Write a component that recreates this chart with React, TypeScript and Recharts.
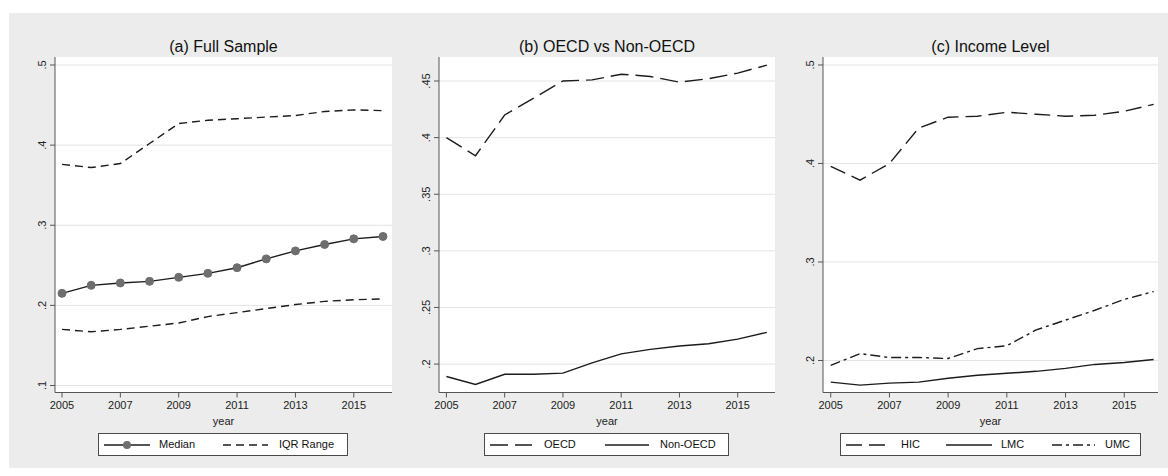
import React from 'react';
import { LineChart, Line, XAxis, YAxis, CartesianGrid } from 'recharts';

// ---- data -------------------------------------------------------------
const years = [2005, 2006, 2007, 2008, 2009, 2010, 2011, 2012, 2013, 2014, 2015, 2016];

// (a) Full sample
const medianShare = [0.215, 0.225, 0.228, 0.23, 0.235, 0.24, 0.247, 0.258, 0.268, 0.276, 0.283, 0.286];
const iqrUpper = [0.376, 0.372, 0.377, 0.402, 0.427, 0.431, 0.433, 0.435, 0.437, 0.442, 0.444, 0.443];
const iqrLower = [0.17, 0.167, 0.17, 0.174, 0.178, 0.186, 0.191, 0.196, 0.201, 0.205, 0.207, 0.208];

// (b) OECD vs Non-OECD
const oecd = [0.4, 0.384, 0.42, 0.435, 0.45, 0.451, 0.456, 0.454, 0.449, 0.452, 0.457, 0.464];
const nonOecd = [0.189, 0.182, 0.191, 0.191, 0.192, 0.201, 0.209, 0.213, 0.216, 0.218, 0.222, 0.228];

// (c) Income level
const hic = [0.397, 0.383, 0.4, 0.436, 0.447, 0.448, 0.452, 0.45, 0.448, 0.449, 0.453, 0.46];
const lmc = [0.178, 0.175, 0.177, 0.178, 0.182, 0.185, 0.187, 0.189, 0.192, 0.196, 0.198, 0.201];
const umc = [0.195, 0.207, 0.203, 0.203, 0.202, 0.212, 0.215, 0.231, 0.241, 0.251, 0.262, 0.27];

const yearTicks = [2005, 2007, 2009, 2011, 2013, 2015];
const ticksA = [0.1, 0.2, 0.3, 0.4, 0.5];
const ticksB = [0.2, 0.25, 0.3, 0.35, 0.4, 0.45];
const ticksC = [0.2, 0.3, 0.4, 0.5];

const dataA = years.map((year, i) => ({ year, median: medianShare[i], p75: iqrUpper[i], p25: iqrLower[i] }));
const dataB = years.map((year, i) => ({ year, oecd: oecd[i], nonOecd: nonOecd[i] }));
const dataC = years.map((year, i) => ({ year, hic: hic[i], lmc: lmc[i], umc: umc[i] }));

// ---- styling ----------------------------------------------------------
const FONT = '"Liberation Sans", Arial, Helvetica, sans-serif';
const INK = '#1c1c1c';
const AXIS = '#555555';
const PLOT_TOP = 57;
const PLOT_BOTTOM = 392.5;
const CHART_H = 476;
const X_AXIS_H = 30;

const DASH_IQR = '8 5';
const DASH_LONG = '18 7';
const DASH_HIC = '16 7';
const DASH_DOT = '10 4 3 4';

const fmtShare = (v: number) => String(Number(v.toFixed(3))).replace(/^0/, '');

const VerticalTick = (props: any) => {
  const { x, y, payload } = props;
  return (
    <text
      x={x}
      y={y}
      transform={`rotate(-90 ${x} ${y})`}
      textAnchor="middle"
      fontSize={11}
      fontFamily={FONT}
      fill="#222"
    >
      {fmtShare(payload.value)}
    </text>
  );
};

type SeriesDef = {
  key: string;
  dash?: string;
  marker?: boolean;
};

type LegendItem = {
  label: string;
  dash?: string;
  marker?: boolean;
  sampleX: number;
  sampleW: number;
  textX: number;
};

type PanelProps = {
  title: string;
  left: number;
  width: number;
  yAxisWidth: number;
  marginRight: number;
  xDomain: [number, number];
  yDomain: [number, number];
  yTicks: number[];
  data: any[];
  series: SeriesDef[];
  legendLeft: number;
  legendWidth: number;
  legend: LegendItem[];
};

function Panel(p: PanelProps) {
  const plotLeft = p.left + p.yAxisWidth;
  const plotRight = p.left + p.width - p.marginRight;
  const center = (plotLeft + plotRight) / 2;
  return (
    <>
      <div
        style={{
          position: 'absolute',
          left: center - 150,
          width: 300,
          top: 38,
          lineHeight: '18px',
          textAlign: 'center',
          fontFamily: FONT,
          fontSize: 16,
          color: '#111',
        }}
      >
        {p.title}
      </div>
      <div style={{ position: 'absolute', left: p.left, top: 0 }}>
        <LineChart
          width={p.width}
          height={CHART_H}
          data={p.data}
          margin={{
            top: PLOT_TOP,
            right: p.marginRight,
            bottom: CHART_H - PLOT_BOTTOM - X_AXIS_H,
            left: 0,
          }}
        >
          <CartesianGrid fill="#ffffff" stroke="#e4e4e4" vertical={false} horizontalValues={p.yTicks} />
          <XAxis
            dataKey="year"
            type="number"
            domain={p.xDomain}
            ticks={yearTicks}
            allowDataOverflow
            height={X_AXIS_H}
            tickSize={5}
            tickMargin={4}
            stroke={AXIS}
            tick={{ fontSize: 11, fontFamily: FONT, fill: '#222' }}
          />
          <YAxis
            type="number"
            domain={p.yDomain}
            ticks={p.yTicks}
            allowDataOverflow
            width={p.yAxisWidth}
            tickSize={5}
            tickMargin={4}
            stroke={AXIS}
            tick={<VerticalTick />}
          />
          {p.series.map((s) => (
            <Line
              key={s.key}
              dataKey={s.key}
              type="linear"
              stroke={INK}
              strokeWidth={1.4}
              strokeDasharray={s.dash}
              dot={s.marker ? { r: 4, fill: '#6e6e6e', stroke: '#6e6e6e', strokeWidth: 1 } : false}
              activeDot={false}
              isAnimationActive={false}
            />
          ))}
        </LineChart>
      </div>
      <div
        style={{
          position: 'absolute',
          left: center - 50,
          width: 100,
          top: 414,
          lineHeight: '14px',
          textAlign: 'center',
          fontFamily: FONT,
          fontSize: 11,
          color: '#222',
        }}
      >
        year
      </div>
      <div
        style={{
          position: 'absolute',
          left: p.legendLeft,
          top: 433,
          width: p.legendWidth,
          height: 23,
          boxSizing: 'border-box',
          background: '#ffffff',
          border: '1px solid #4a4a4a',
          fontFamily: FONT,
          fontSize: 11,
          color: '#111',
        }}
      >
        {p.legend.map((item) => (
          <React.Fragment key={item.label}>
            <svg
              width={item.sampleW}
              height={12}
              style={{ position: 'absolute', left: item.sampleX, top: 4.5 }}
            >
              <line
                x1={0}
                y1={6}
                x2={item.sampleW}
                y2={6}
                stroke={INK}
                strokeWidth={1.4}
                strokeDasharray={item.dash}
              />
              {item.marker && <circle cx={item.sampleW / 2} cy={6} r={4} fill="#6e6e6e" />}
            </svg>
            <span style={{ position: 'absolute', left: item.textX, top: 4, lineHeight: '13px' }}>{item.label}</span>
          </React.Fragment>
        ))}
      </div>
    </>
  );
}

export default function App() {
  return (
    <div
      style={{
        position: 'absolute',
        left: 0,
        top: 0,
        width: 1168,
        height: 476,
        background: '#ffffff',
        overflow: 'hidden',
      }}
    >
      <div style={{ position: 'absolute', left: 9, top: 13, width: 1159, height: 455, background: '#ececec' }} />
      <Panel
        title="(a) Full Sample"
        left={0}
        width={400}
        yAxisWidth={55}
        marginRight={8}
        xDomain={[2004.76, 2016.31]}
        yDomain={[0.09125, 0.51]}
        yTicks={ticksA}
        data={dataA}
        series={[
          { key: 'p75', dash: DASH_IQR },
          { key: 'p25', dash: DASH_IQR },
          { key: 'median', marker: true },
        ]}
        legendLeft={98}
        legendWidth={250}
        legend={[
          { label: 'Median', marker: true, sampleX: 5, sampleW: 46, textX: 60 },
          { label: 'IQR Range', dash: DASH_IQR, sampleX: 124, sampleW: 45, textX: 180 },
        ]}
      />
      <Panel
        title="(b) OECD vs Non-OECD"
        left={394}
        width={384}
        yAxisWidth={45}
        marginRight={3}
        xDomain={[2004.746, 2016.28]}
        yDomain={[0.1749, 0.4712]}
        yTicks={ticksB}
        data={dataB}
        series={[
          { key: 'oecd', dash: DASH_LONG },
          { key: 'nonOecd' },
        ]}
        legendLeft={484}
        legendWidth={245}
        legend={[
          { label: 'OECD', dash: DASH_LONG, sampleX: 5, sampleW: 42, textX: 59 },
          { label: 'Non-OECD', sampleX: 120, sampleW: 44, textX: 175 },
        ]}
      />
      <Panel
        title="(c) Income Level"
        left={778}
        width={390}
        yAxisWidth={45}
        marginRight={10}
        xDomain={[2004.737, 2016.15]}
        yDomain={[0.1675, 0.5081]}
        yTicks={ticksC}
        data={dataC}
        series={[
          { key: 'hic', dash: DASH_HIC },
          { key: 'lmc' },
          { key: 'umc', dash: DASH_DOT },
        ]}
        legendLeft={840}
        legendWidth={301}
        legend={[
          { label: 'HIC', dash: DASH_HIC, sampleX: 5, sampleW: 41, textX: 60 },
          { label: 'LMC', sampleX: 105, sampleW: 46, textX: 160 },
          { label: 'UMC', dash: DASH_DOT, sampleX: 211, sampleW: 43, textX: 264 },
        ]}
      />
    </div>
  );
}
